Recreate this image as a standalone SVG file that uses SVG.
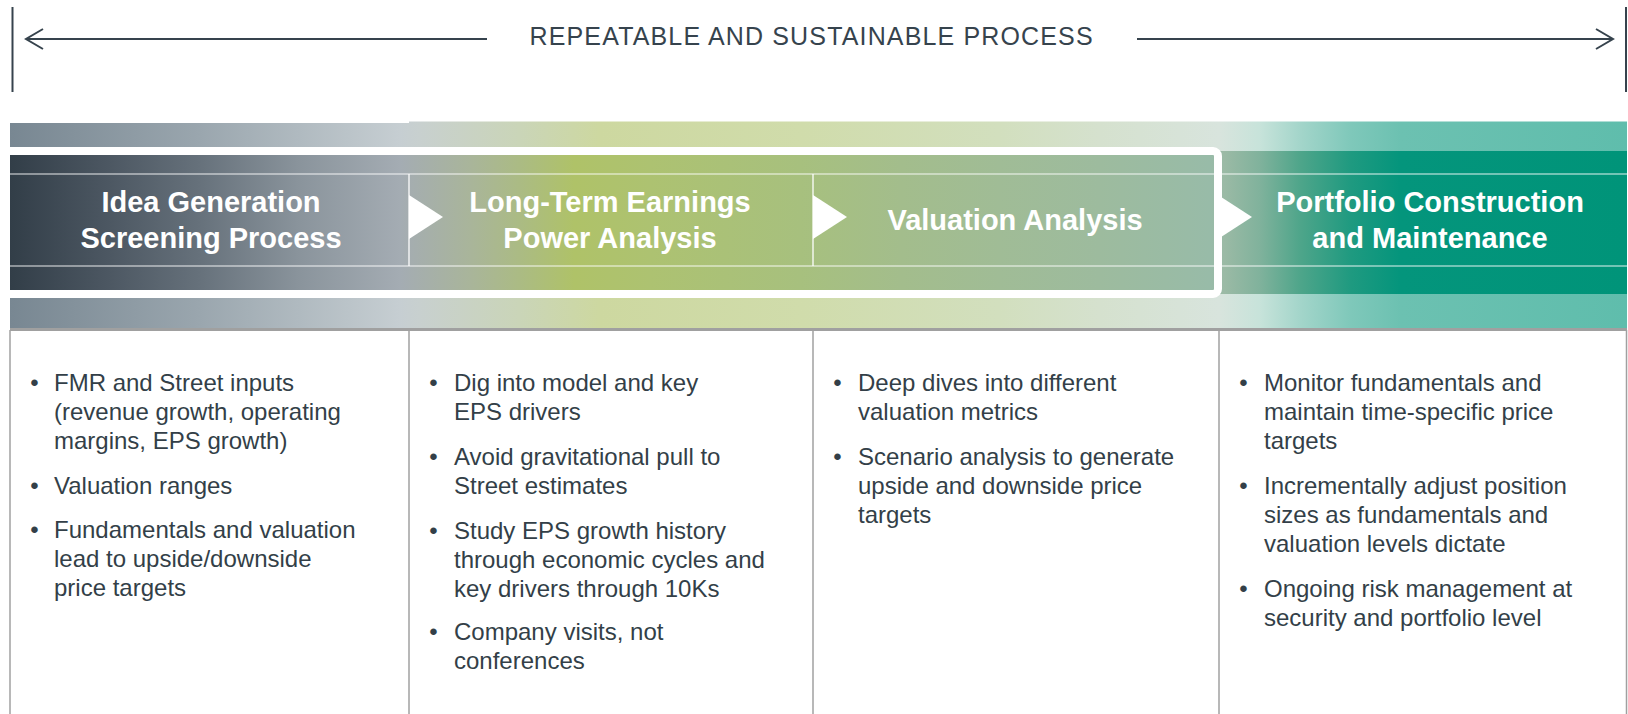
<svg xmlns="http://www.w3.org/2000/svg" width="1628" height="714" viewBox="0 0 1628 714">
  <defs>
    <!-- open chevron head for the span arrow -->
    <marker id="chev" markerUnits="userSpaceOnUse" markerWidth="22" markerHeight="26" viewBox="-19 -13 22 26" refX="0" refY="0" orient="auto" overflow="visible">
      <path d="M -17 -10 L 0 0 L -17 10" fill="none" stroke="#36434d" stroke-width="2" stroke-linejoin="miter"/>
    </marker>
    <!-- saturated band behind the stage titles -->
    <linearGradient id="gMain" gradientUnits="userSpaceOnUse" x1="10" y1="0" x2="1627" y2="0">
      <stop offset="0" stop-color="#323e48"/>
      <stop offset="0.056" stop-color="#4a5560"/>
      <stop offset="0.117" stop-color="#66717b"/>
      <stop offset="0.179" stop-color="#8a949c"/>
      <stop offset="0.241" stop-color="#a4acb3"/>
      <stop offset="0.285" stop-color="#a9b59a"/>
      <stop offset="0.315" stop-color="#abbb84"/>
      <stop offset="0.349" stop-color="#afc268"/>
      <stop offset="0.396" stop-color="#adc271"/>
      <stop offset="0.489" stop-color="#a7c07e"/>
      <stop offset="0.551" stop-color="#a3bd8c"/>
      <stop offset="0.612" stop-color="#a0bc96"/>
      <stop offset="0.674" stop-color="#9dbb9e"/>
      <stop offset="0.742" stop-color="#98bba8"/>
      <stop offset="0.751" stop-color="#9bbaa5"/>
      <stop offset="0.773" stop-color="#80b29c"/>
      <stop offset="0.798" stop-color="#4ea58a"/>
      <stop offset="0.829" stop-color="#1f9a80"/>
      <stop offset="0.860" stop-color="#04957c"/>
      <stop offset="1" stop-color="#009479"/>
    </linearGradient>
    <!-- pale bands above and below -->
    <linearGradient id="gPale" gradientUnits="userSpaceOnUse" x1="10" y1="0" x2="1627" y2="0">
      <stop offset="0" stop-color="#788792"/>
      <stop offset="0.117" stop-color="#9aa6ae"/>
      <stop offset="0.241" stop-color="#c6ced2"/>
      <stop offset="0.253" stop-color="#c8d0cf"/>
      <stop offset="0.315" stop-color="#cad5b8"/>
      <stop offset="0.365" stop-color="#cdd8a0"/>
      <stop offset="0.489" stop-color="#d0dcab"/>
      <stop offset="0.612" stop-color="#d2dfbe"/>
      <stop offset="0.674" stop-color="#d5e1ce"/>
      <stop offset="0.748" stop-color="#d8e4dd"/>
      <stop offset="0.773" stop-color="#c7e3da"/>
      <stop offset="0.798" stop-color="#a3d5ca"/>
      <stop offset="0.829" stop-color="#7fc8ba"/>
      <stop offset="0.860" stop-color="#6cc1b1"/>
      <stop offset="1" stop-color="#5fbdac"/>
    </linearGradient>
  </defs>
  <style>
    .span { fill: none; stroke: #36434d; stroke-width: 2; }
    .caption { font-family: "Liberation Sans", Arial, sans-serif; font-size: 25px; letter-spacing: 1.15px; fill: #36434d; }
    .head { font-family: "Liberation Sans", Arial, sans-serif; font-size: 29px; font-weight: bold; fill: #ffffff; text-anchor: middle; }
    .body { font-family: "Liberation Sans", Arial, sans-serif; font-size: 24px; fill: #333f48; }
    .dot { text-anchor: middle; }
    .rule { stroke: #ffffff; stroke-opacity: 0.6; stroke-width: 1.5; }
    .sep { stroke: #ffffff; stroke-opacity: 0.85; stroke-width: 1.5; }
    .grid { stroke: #a0a0a0; stroke-width: 1.5; fill: none; }
    .tri { fill: #ffffff; }
  </style>

  <rect width="1628" height="714" fill="#ffffff"/>

  <!-- span arrow and caption across the top -->
  <g id="span-arrow">
    <line class="span" x1="12.5" y1="7" x2="12.5" y2="92"/>
    <line class="span" x1="1626" y1="7" x2="1626" y2="92"/>
    <line class="span" x1="487" y1="39" x2="26" y2="39" marker-end="url(#chev)"/>
    <line class="span" x1="1137" y1="39" x2="1613" y2="39" marker-end="url(#chev)"/>
    <text class="caption" x="529.5" y="44.5">REPEATABLE AND SUSTAINABLE PROCESS</text>
  </g>

  <!-- gradient bands -->
  <g id="bands">
    <rect x="10" y="123" width="399" height="28" fill="url(#gPale)"/>
    <rect x="409" y="121.5" width="1218" height="29.5" fill="url(#gPale)"/>
    <rect x="10" y="151" width="1617" height="143" fill="url(#gMain)"/>
    <rect x="10" y="294" width="1617" height="34" fill="url(#gPale)"/>
    <line class="rule" x1="10" y1="174" x2="1627" y2="174"/>
    <line class="rule" x1="10" y1="266" x2="1627" y2="266"/>
    <!-- white frame round the research stages -->
    <rect x="-10" y="151" width="1228" height="143" rx="5" fill="none" stroke="#ffffff" stroke-width="8"/>
  </g>

  <!-- content grid -->
  <g id="grid">
    <rect x="10" y="328" width="1617" height="3" fill="#a0a0a0"/>
    <line class="grid" x1="10" y1="330" x2="10" y2="714"/>
    <line class="grid" x1="409" y1="330" x2="409" y2="714"/>
    <line class="grid" x1="813" y1="330" x2="813" y2="714"/>
    <line class="grid" x1="1219" y1="330" x2="1219" y2="714"/>
    <line class="grid" x1="1626.5" y1="330" x2="1626.5" y2="714"/>
  </g>

  <!-- stage-to-stage flow markers -->
  <g id="connectors">
    <line class="sep" x1="409" y1="174" x2="409" y2="266"/>
    <line class="sep" x1="813" y1="174" x2="813" y2="266"/>
    <polygon class="tri" points="409,195 409,239 443,217"/>
    <polygon class="tri" points="813,195 813,239 847,217"/>
    <polygon class="tri" points="1218,195 1218,239 1252,217"/>
  </g>

  <g id="stage-idea">
    <text class="head" x="211" y="212">Idea Generation</text>
    <text class="head" x="211" y="247.5">Screening Process</text>
    <g class="body">
      <text class="dot" x="34.5" y="391">•</text>
      <text x="54" y="391">FMR and Street inputs</text>
      <text x="54" y="420">(revenue growth, operating</text>
      <text x="54" y="449">margins, EPS growth)</text>
      <text class="dot" x="34.5" y="494">•</text>
      <text x="54" y="494">Valuation ranges</text>
      <text class="dot" x="34.5" y="538">•</text>
      <text x="54" y="538">Fundamentals and valuation</text>
      <text x="54" y="567">lead to upside/downside</text>
      <text x="54" y="596">price targets</text>
    </g>
  </g>

  <g id="stage-earnings">
    <text class="head" x="610" y="212">Long-Term Earnings</text>
    <text class="head" x="610" y="247.5">Power Analysis</text>
    <g class="body">
      <text class="dot" x="433.5" y="391">•</text>
      <text x="454" y="391">Dig into model and key</text>
      <text x="454" y="420">EPS drivers</text>
      <text class="dot" x="433.5" y="465">•</text>
      <text x="454" y="465">Avoid gravitational pull to</text>
      <text x="454" y="494">Street estimates</text>
      <text class="dot" x="433.5" y="538.5">•</text>
      <text x="454" y="538.5">Study EPS growth history</text>
      <text x="454" y="567.5">through economic cycles and</text>
      <text x="454" y="596.5">key drivers through 10Ks</text>
      <text class="dot" x="433.5" y="640">•</text>
      <text x="454" y="640">Company visits, not</text>
      <text x="454" y="669">conferences</text>
    </g>
  </g>

  <g id="stage-valuation">
    <text class="head" x="1015" y="229.5">Valuation Analysis</text>
    <g class="body">
      <text class="dot" x="837.5" y="391">•</text>
      <text x="858" y="391">Deep dives into different</text>
      <text x="858" y="420">valuation metrics</text>
      <text class="dot" x="837.5" y="465">•</text>
      <text x="858" y="465">Scenario analysis to generate</text>
      <text x="858" y="494">upside and downside price</text>
      <text x="858" y="523">targets</text>
    </g>
  </g>

  <g id="stage-portfolio">
    <text class="head" x="1430" y="212">Portfolio Construction</text>
    <text class="head" x="1430" y="247.5">and Maintenance</text>
    <g class="body">
      <text class="dot" x="1243.5" y="391">•</text>
      <text x="1264" y="391">Monitor fundamentals and</text>
      <text x="1264" y="420">maintain time-specific price</text>
      <text x="1264" y="449">targets</text>
      <text class="dot" x="1243.5" y="494">•</text>
      <text x="1264" y="494">Incrementally adjust position</text>
      <text x="1264" y="523">sizes as fundamentals and</text>
      <text x="1264" y="551.5">valuation levels dictate</text>
      <text class="dot" x="1243.5" y="597">•</text>
      <text x="1264" y="597">Ongoing risk management at</text>
      <text x="1264" y="626">security and portfolio level</text>
    </g>
  </g>
</svg>
